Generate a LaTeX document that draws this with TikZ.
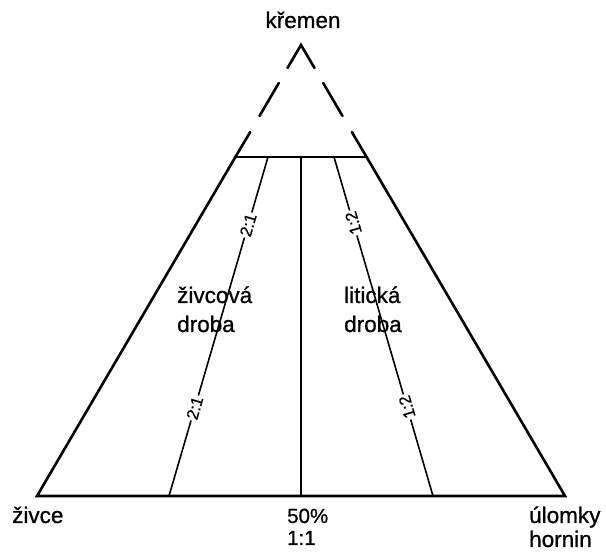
\documentclass[tikz,border=0pt]{standalone}
\usepackage{fontspec}
\setmainfont{Liberation Sans}
\newfontfamily\heavyfont{Liberation Sans}[FakeBold=0.8]
\begin{document}
\begin{tikzpicture}[x=1pt,y=-1pt,
  side/.style={line width=2.6pt,line cap=round},
  inner/.style={line width=1.6pt},
  lbl/.style={font=\heavyfont\fontsize{22.5}{24}\selectfont,inner sep=0pt,anchor=base west},
  small/.style={font=\heavyfont\fontsize{20.5}{22}\selectfont},
  ratio/.style={font=\heavyfont\fontsize{16.5}{17}\selectfont,inner xsep=1.5pt,inner ysep=0pt,fill=white}]
\useasboundingbox (0,0) rectangle (606,553);
% vertices
\coordinate (apex) at (301,45);
\coordinate (L) at (37,496);
\coordinate (R) at (565,496);
\coordinate (TL) at (235.4,157);
\coordinate (TR) at (366.6,157);
% dashed upper sides
\coordinate (dl1) at (287.5,68);
\coordinate (dr1) at (314.5,68);
\coordinate (dl2a) at (278.8,83);
\coordinate (dl2b) at (259.5,116);
\coordinate (dr2a) at (323.2,83);
\coordinate (dr2b) at (342.5,116);
\coordinate (dl3) at (250.2,132);
\coordinate (dr3) at (351.8,132);
\draw[side] (dl1) -- (apex) -- (dr1);
\draw[side] (dl2a) -- (dl2b);
\draw[side] (dr2a) -- (dr2b);
\draw[side] (dl3) -- (TL);
\draw[side] (dr3) -- (TR);
% solid trapezium
\draw[side,line join=miter] (TL) -- (L) -- (R) -- (TR);
\draw[line width=2.2pt] (TL) -- (TR);
% inner lines
\coordinate (mt) at (301,157);
\coordinate (mb) at (301,496);
\draw[inner] (mt) -- (mb);
\coordinate (lt) at (268,157);
\coordinate (lb) at (169,496);
\coordinate (rt) at (334,157);
\coordinate (rb) at (433,496);
\draw[inner] (lt) -- (lb);
\draw[inner] (rt) -- (rb);
\node[ratio,rotate=73.7] (l1) at (248.1,225) {2:1};
\node[ratio,rotate=73.7] (l2) at (194.7,408) {2:1};
\node[ratio,rotate=106.3] (r1) at (353.3,223) {1:2};
\node[ratio,rotate=106.3] (r2) at (407,407) {1:2};
% texts
\node[lbl,anchor=base] (kr) at (303,28) {křemen};
\node[lbl] (zi) at (12,523) {živce};
\node[lbl,small] (p50) at (287,523) {50\%};
\node[lbl,small] (p11) at (287,545) {1:1};
\node[lbl] (ul) at (529,523) {úlomky};
\node[lbl] (ho) at (529,547) {hornin};
\node[lbl] (zv) at (177,303) {živcová};
\node[lbl] (zd) at (177,332) {droba};
\node[lbl] (li) at (344,303) {litická};
\node[lbl] (ld) at (344,332) {droba};
\end{tikzpicture}
\end{document}
